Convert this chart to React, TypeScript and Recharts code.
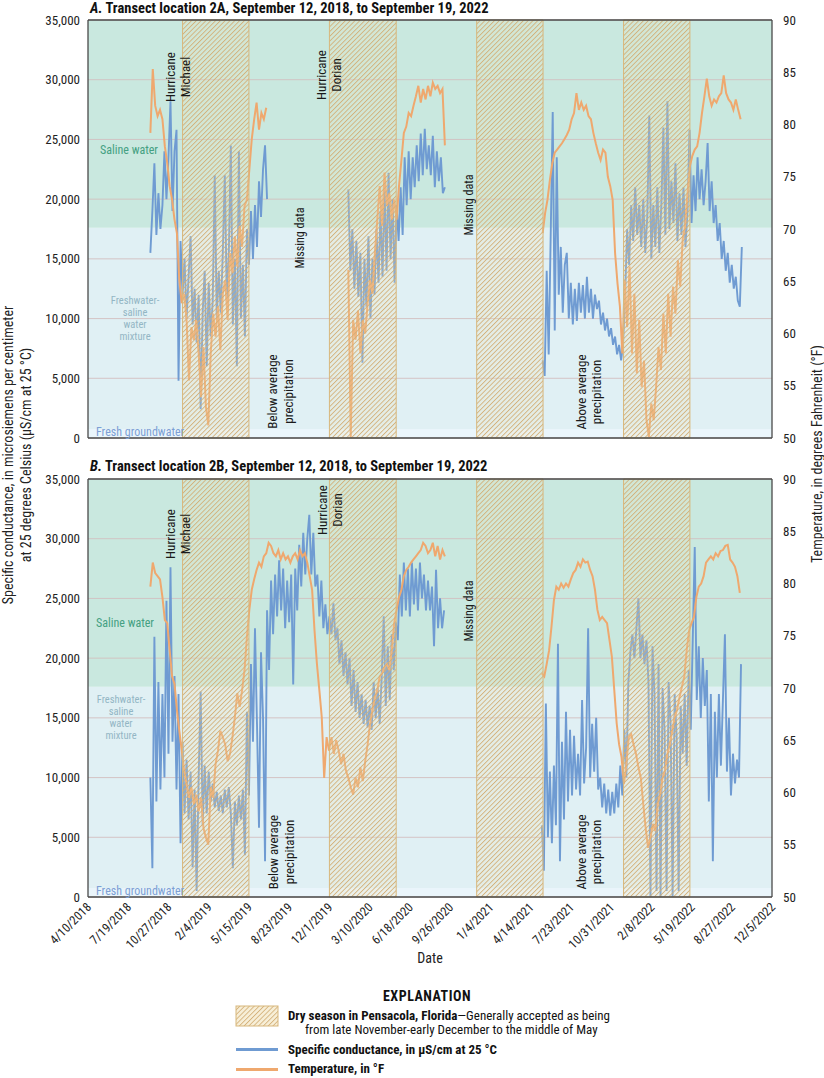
import React from 'react';
import { LineChart, Line, XAxis, YAxis, CartesianGrid, ReferenceArea } from 'recharts';

const FONT = "'Liberation Sans Narrow', 'Arial Narrow', 'Roboto Condensed', Roboto, sans-serif";
const DAY = 86400000;
const BLUE = '#6f9bd2';
const ORANGE = '#efa86e';
const AXIS = '#4a4a4a';

// x axis: 100-day tick spacing, as printed
const dateTicks = ['4/10/2018', '7/19/2018', '10/27/2018', '2/4/2019', '5/15/2019', '8/23/2019', '12/1/2019', '3/10/2020', '6/18/2020', '9/26/2020', '1/4/2021', '4/14/2021', '7/23/2021', '10/31/2021', '2/8/2022', '5/19/2022', '8/27/2022', '12/5/2022'];
const scTicks = [0, 5000, 10000, 15000, 20000, 25000, 30000, 35000];
const tempTicks = [50, 55, 60, 65, 70, 75, 80, 85, 90];
const tempInnerTicks = [55, 60, 65, 70, 75, 80, 85];

// water-type zones, specific conductance limits (µS/cm)
const waterZones = [
  { label: 'Fresh groundwater', from: 0, to: 750 },
  { label: 'Freshwater-saline water mixture', from: 750, to: 17600 },
  { label: 'Saline water', from: 17600, to: 35000 },
];
const zoneFill: Record<string, string> = {
  'Fresh groundwater': '#eaf5fb',
  'Freshwater-saline water mixture': '#e0f0f4',
  'Saline water': '#c9e8df',
};

// dry season in Pensacola (start, end)
const drySeasons = [
  ['12/1/2018', '5/15/2019'],
  ['12/1/2019', '5/15/2020'],
  ['12/1/2020', '5/15/2021'],
  ['12/1/2021', '5/15/2022'],
];

type Segment = { start: string; step: number; values: number[] };

// ---- Transect 2A ----
const sc2A: Segment[] = [
  { start: '9/12/2018', step: 5, values: [15500, 19000, 23000, 17000, 20500, 17500, 19500, 24000, 20000, 23500, 28200, 19000, 24000, 25800, 4800, 16500, 12000, 15000, 10000, 13500, 16900, 9500, 12500, 8000, 12000, 2400, 10500, 14000, 6000, 13000, 8500, 11500, 22000, 10000, 14000, 10500, 15500, 22000, 11500, 15500, 24500, 9500, 15000, 6000, 24000, 10000, 14500, 8500, 17500, 14500, 19000, 15000, 19500, 16000, 21500, 18500, 22500, 24500, 20000] },
  { start: '1/17/2020', step: 5, values: [20800, 14000, 17500, 12500, 16500, 11800, 15500, 6300, 15000, 11000, 16900, 10000, 15000, 12000, 17500, 13000, 19000, 13500, 21000, 14000, 22200, 15000, 20000, 13000, 19500, 16500, 21000, 17000, 23500, 19500, 24000, 20000, 23500, 21000, 24500, 21500, 25500, 22000, 25900, 22500, 24500, 22000, 25300, 21000, 24000, 21500, 23500, 20500, 21000] },
  { start: '5/14/2021', step: 5, values: [6500, 5200, 14000, 7000, 17000, 27300, 9000, 23500, 12000, 16000, 10500, 14500, 15500, 10000, 13000, 9500, 12500, 9800, 13000, 10500, 12800, 10000, 13500, 10500, 12500, 10000, 12000, 10800, 11500, 9500, 10500, 9000, 10000, 8500, 9200, 7800, 8500, 7000, 7800, 6500, 8000, 12000, 17500, 14500, 19500, 16500, 21000, 17000, 19500, 16000, 20000, 15500, 18500, 27000, 15000, 19500, 16000, 21000, 15500, 19500, 26000, 17000, 28200, 17500, 21500, 18000, 23000, 16500, 20500, 17000, 21000, 16000, 19000, 25800, 18000, 22000, 19000, 23500, 20000, 22500, 19500, 21500, 24700, 19000, 21500, 18000, 19500, 16500, 18000, 15000, 16500, 14000, 15500, 13000, 14500, 12500, 13500, 11500, 11000, 16000] },
];
const temp2A: Segment[] = [
  { start: '9/12/2018', step: 6, values: [79.2, 85.3, 81.8, 80.8, 81.4, 80.5, 77.9, 76.3, 74.1, 72.8, 70.9, 69.6, 65.1, 62.9, 63.8, 61.3, 55.5, 60.6, 59.4, 61.3, 58.1, 53.9, 58.7, 53.0, 51.2, 58.1, 61.9, 59.7, 62.6, 58.4, 63.8, 65.1, 61.3, 67.7, 65.8, 69.3, 66.4, 70.3, 68.3, 72.2, 72.8, 75.7, 78.6, 80.5, 82.1, 79.5, 81.1, 80.5, 81.6] },
  { start: '1/17/2020', step: 6, values: [66.1, 50.1, 61.3, 59.4, 62.2, 58.1, 61.3, 60.0, 62.9, 65.1, 63.8, 67.7, 70.9, 74.1, 70.3, 75.4, 72.2, 73.4, 70.9, 72.8, 70.9, 74.1, 76.6, 79.2, 79.8, 81.1, 80.8, 81.8, 82.7, 83.7, 82.1, 83.4, 82.4, 83.7, 82.7, 84.0, 83.4, 83.7, 83.0, 83.4, 78.0] },
  { start: '5/14/2021', step: 6, values: [69.6, 71.5, 72.8, 74.7, 76.3, 77.3, 77.6, 77.9, 78.2, 78.6, 79.0, 79.5, 80.5, 81.1, 83.0, 81.4, 82.1, 81.4, 81.8, 80.8, 80.5, 79.2, 78.2, 77.3, 76.6, 77.6, 77.3, 75.0, 74.1, 72.8, 67.7, 64.8, 62.6, 58.1, 65.1, 60.6, 66.4, 58.1, 63.8, 56.2, 61.3, 54.9, 57.4, 51.7, 50.1, 53.3, 51.7, 54.9, 58.7, 56.5, 61.9, 58.1, 63.8, 59.7, 64.5, 61.9, 67.0, 64.5, 69.0, 70.3, 73.4, 76.0, 77.0, 77.6, 77.9, 79.2, 81.1, 82.7, 84.4, 82.7, 81.8, 82.4, 82.1, 82.7, 83.0, 84.7, 83.0, 82.4, 82.1, 81.4, 82.4, 81.4, 80.5] },
];

// ---- Transect 2B ----
const sc2B: Segment[] = [
  { start: '9/12/2018', step: 5, values: [10000, 2400, 21800, 8000, 18000, 9000, 17000, 10000, 24800, 12000, 27600, 13000, 18500, 9000, 17000, 4500, 13000, 7000, 11500, 6500, 10500, 2500, 9000, 500, 10000, 17200, 6000, 11000, 7000, 10500, 8000, 9500, 7500, 8800, 7200, 8500, 7000, 9000, 7500, 9200, 7000, 2400, 8000, 6000, 8500, 6500, 9000, 3500, 15500, 8500, 19500, 13000, 22500, 14500, 5800, 20500, 15000, 3000, 24000, 19000, 26500, 22000, 27000, 23500, 28200, 24000, 27500, 22500, 26500, 23000, 27000, 17800, 27500, 24000, 29500, 26000, 30500, 27000, 30000, 32000, 27000, 30500, 26000, 27000, 23500, 26500, 22500, 24500, 22000, 23500, 22000, 24600, 21500, 22500, 19500, 21500, 18500, 20500, 17800, 20000, 16000, 19000, 15500, 18000, 15000, 17000, 14500, 16500, 14200, 16000, 14000, 18000, 15000, 17500, 14500, 18500, 23500, 16000, 21000, 16500, 22000, 19000, 23000, 21500, 27000, 23500, 28000, 24000, 27500, 23500, 28000, 24500, 27500, 24000, 28000, 25000, 27000, 24000, 26500, 24000, 26000, 21000, 27400, 22500, 25000, 22500, 24000] },
  { start: '5/12/2021', step: 5, values: [6000, 2200, 16200, 5000, 10500, 4500, 11000, 6000, 21200, 3000, 13000, 6500, 15500, 8000, 14000, 8500, 13500, 9000, 12000, 8500, 16500, 9500, 12500, 22500, 10000, 14500, 10500, 15000, 9000, 10000, 7500, 9500, 7000, 9000, 6800, 8800, 7000, 9500, 7500, 11000, 8500, 14000, 10000, 18000, 20500, 22000, 20000, 22500, 25000, 20000, 22000, 19500, 21500, 18000, 0, 21000, 17000, 500, 19500, 0, 17500, 14000, 500, 18000, 14500, 0, 17000, 13500, 500, 16000, 12000, 17000, 11000, 19000, 14000, 21500, 29300, 16500, 21000, 15000, 20000, 16000, 19000, 8000, 17000, 3000, 15500, 10000, 17000, 11000, 16500, 22000, 10500, 15000, 8500, 12000, 9500, 11500, 10000, 19500] },
];
const temp2B: Segment[] = [
  { start: '9/12/2018', step: 6, values: [79.7, 82.0, 81.0, 80.7, 80.4, 78.7, 76.5, 76.2, 73.6, 71.1, 70.4, 67.9, 65.9, 64.0, 62.1, 60.8, 59.5, 60.5, 58.9, 59.8, 58.2, 59.5, 56.6, 55.7, 55.0, 60.5, 59.5, 62.7, 64.0, 65.9, 65.3, 64.6, 63.0, 63.7, 65.3, 67.2, 69.5, 68.2, 69.8, 71.7, 74.9, 77.5, 79.4, 80.4, 81.3, 82.0, 81.6, 82.6, 82.9, 83.9, 83.6, 82.9, 82.6, 83.2, 82.3, 82.9, 82.3, 82.6, 82.0, 82.6, 82.9, 82.3, 83.2, 82.6, 82.9, 82.0, 80.7, 79.4, 75.5, 72.3, 69.8, 67.2, 61.4, 65.3, 64.0, 65.3, 63.7, 65.0, 64.0, 62.7, 63.7, 62.1, 61.4, 60.5, 59.8, 61.4, 60.5, 62.4, 61.1, 63.0, 64.6, 66.6, 67.9, 69.1, 69.8, 71.1, 71.4, 72.0, 72.3, 71.7, 73.6, 76.2, 77.5, 78.7, 79.4, 80.7, 81.3, 81.6, 82.0, 82.3, 82.6, 82.9, 83.2, 83.9, 83.6, 82.9, 83.2, 83.9, 82.6, 83.6, 82.3, 83.2, 82.6] },
  { start: '5/12/2021', step: 6, values: [71.4, 71.1, 72.3, 73.6, 75.9, 78.4, 79.7, 79.4, 80.0, 79.6, 80.0, 79.7, 80.4, 81.0, 81.3, 82.0, 81.6, 82.3, 82.0, 82.1, 81.3, 80.7, 79.4, 77.5, 76.5, 76.8, 76.5, 76.2, 74.6, 73.0, 69.8, 66.6, 64.6, 63.4, 60.8, 62.7, 65.3, 65.6, 64.6, 63.7, 62.4, 61.4, 58.9, 56.6, 54.7, 55.7, 57.0, 56.3, 58.9, 59.8, 61.4, 62.1, 63.7, 64.6, 65.9, 67.2, 67.9, 69.1, 70.1, 71.1, 73.6, 75.5, 76.2, 76.8, 78.7, 79.7, 80.0, 80.7, 82.0, 82.3, 82.6, 82.3, 82.9, 82.6, 83.1, 83.2, 83.6, 83.7, 82.3, 82.0, 81.6, 80.7, 79.1] },
];

const parseDate = (s: string) => {
  const [m, d, y] = s.split('/').map(Number);
  return Date.UTC(y, m - 1, d);
};
const tickTimes = dateTicks.map(parseDate);
const T0 = tickTimes[0];
const T1 = tickTimes[tickTimes.length - 1];
const tickLabel = new Map(tickTimes.map((t, i) => [t, dateTicks[i]]));

const toPoints = (seg: Segment) => {
  const t0 = parseDate(seg.start);
  return seg.values.map((v, i) => ({ t: t0 + i * seg.step * DAY, v }));
};

const DateTick = (props: any) => {
  const { x, y, payload } = props;
  const ax = x + 4;
  const ay = y + 11;
  return (
    <text x={ax} y={ay} transform={`rotate(-45 ${ax} ${ay})`} textAnchor="end" fontSize={12.5} fontFamily={FONT} fill="#222">
      {tickLabel.get(payload.value)}
    </text>
  );
};

const tickStyle = { fontSize: 13, fill: '#222', fontFamily: FONT };

function Panel({ id, sc, temp, dates }: { id: string; sc: Segment[]; temp: Segment[]; dates: boolean }) {
  const hatch = `dry-${id}`;
  return (
    <LineChart width={824} height={dates ? 498 : 445} margin={{ top: 20, right: 0, bottom: dates ? 0 : 7, left: 0 }}>
      <defs>
        <pattern id={hatch} patternUnits="userSpaceOnUse" width={3.4} height={3.4} patternTransform="rotate(45)">
          <rect width={3.4} height={3.4} fill="#f3e2b5" fillOpacity={0.22} />
          <line x1={0.5} y1={0} x2={0.5} y2={3.4} stroke="#d3ae74" strokeWidth={0.85} />
        </pattern>
      </defs>
      {waterZones.map((z) => (
        <ReferenceArea key={z.label} xAxisId="b" yAxisId="sc" y1={z.from} y2={z.to} fill={zoneFill[z.label]} fillOpacity={1} stroke="none" zIndex={-200} />
      ))}
      <CartesianGrid xAxisId="b" yAxisId="sc" vertical={false} stroke="#d2bcbd" strokeOpacity={0.85} />
      {sc.map((s, i) => (
        <Line key={`sc${i}`} xAxisId="b" yAxisId="sc" data={toPoints(s)} dataKey="v" stroke={BLUE} strokeWidth={1.9} dot={false} isAnimationActive={false} />
      ))}
      {temp.map((s, i) => (
        <Line key={`t${i}`} xAxisId="b" yAxisId="t" data={toPoints(s)} dataKey="v" stroke={ORANGE} strokeWidth={2} dot={false} isAnimationActive={false} />
      ))}
      {drySeasons.map(([a, b]) => (
        <ReferenceArea key={a} xAxisId="b" yAxisId="sc" x1={parseDate(a)} x2={parseDate(b)} fill={`url(#${hatch})`} fillOpacity={1} stroke="#d8b77c" strokeWidth={1} zIndex={450} />
      ))}
      <XAxis xAxisId="b" type="number" dataKey="t" domain={[T0, T1]} ticks={tickTimes} allowDataOverflow mirror orientation="bottom" height={10} tick={false} tickSize={5} stroke={AXIS} strokeWidth={1.3} interval={0} />
      <XAxis xAxisId="top" type="number" dataKey="t" domain={[T0, T1]} ticks={tickTimes} allowDataOverflow mirror orientation="top" height={10} tick={false} tickSize={5} stroke={AXIS} strokeWidth={1.3} interval={0} />
      {dates && (
        <XAxis xAxisId="lab" type="number" dataKey="t" domain={[T0, T1]} ticks={tickTimes} allowDataOverflow height={60} axisLine={false} tickLine={false} tickSize={0} tickMargin={0} tick={<DateTick />} interval={0} />
      )}
      <YAxis yAxisId="sc" domain={[0, 35000]} ticks={scTicks} allowDataOverflow width={88} tickLine={false} tickSize={0} tickMargin={8} tick={tickStyle} tickFormatter={(v: number) => v.toLocaleString('en-US')} stroke={AXIS} strokeWidth={1.3} interval={0} />
      <YAxis yAxisId="tl" domain={[50, 90]} ticks={tempInnerTicks} allowDataOverflow mirror width={10} tick={false} tickSize={5} axisLine={false} stroke={AXIS} interval={0} />
      <YAxis yAxisId="t" orientation="right" domain={[50, 90]} ticks={tempTicks} allowDataOverflow width={52} tickLine={false} tickSize={0} tickMargin={11} tick={tickStyle} stroke={AXIS} strokeWidth={1.3} interval={0} />
    </LineChart>
  );
}

const VText = ({ x, y, lines, size = 13, gap = 15 }: { x: number; y: number; lines: string[]; size?: number; gap?: number }) => (
  <g>
    {lines.map((l, i) => (
      <text key={i} x={x + i * gap} y={y} transform={`rotate(-90 ${x + i * gap} ${y})`} textAnchor="middle" fontSize={size} fill="#1a1a1a">
        {l}
      </text>
    ))}
  </g>
);

const ZoneLabels = ({ salX, salY, mixX, mixY, freshY }: { salX: number; salY: number; mixX: number; mixY: number; freshY: number }) => (
  <g fontSize={12}>
    <text x={salX} y={salY} textAnchor="middle" fill="#44a082">Saline water</text>
    {['Freshwater-', 'saline', 'water', 'mixture'].map((l, i) => (
      <text key={l + i} x={mixX} y={mixY + i * 12} textAnchor="middle" fill="#93b6c4" fontSize={10.5}>{l}</text>
    ))}
    <text x={96} y={freshY} fill="#7c9fd4">Fresh groundwater</text>
  </g>
);

export default function App() {
  return (
    <div style={{ position: 'absolute', left: 0, top: 0, width: 824, height: 1078, background: '#fff', fontFamily: FONT }}>
      <div style={{ position: 'absolute', left: 0, top: 0 }}>
        <Panel id="A" sc={sc2A} temp={temp2A} dates={false} />
      </div>
      <div style={{ position: 'absolute', left: 0, top: 459 }}>
        <Panel id="B" sc={sc2B} temp={temp2B} dates />
      </div>
      <svg style={{ position: 'absolute', left: 0, top: 0, pointerEvents: 'none' }} width={824} height={1078} fontFamily={FONT}>
        <defs>
          <pattern id="dry-legend" patternUnits="userSpaceOnUse" width={3.4} height={3.4} patternTransform="rotate(45)">
            <rect width={3.4} height={3.4} fill="#f7efd8" />
            <line x1={0.5} y1={0} x2={0.5} y2={3.4} stroke="#d3ae74" strokeWidth={0.85} />
          </pattern>
        </defs>
        <text x={90} y={12.7} fontSize={14.5} fontWeight="bold" fill="#111">
          <tspan fontStyle="italic">A.</tspan> Transect location 2A, September 12, 2018, to September 19, 2022
        </text>
        <text x={90} y={470.5} fontSize={14.5} fontWeight="bold" fill="#111">
          <tspan fontStyle="italic">B.</tspan> Transect location 2B, September 12, 2018, to September 19, 2022
        </text>

        <ZoneLabels salX={129} salY={154} mixX={135} mixY={304} freshY={436} />
        <ZoneLabels salX={125} salY={627} mixX={121} mixY={703} freshY={895} />

        <VText x={174.5} y={77} lines={['Hurricane', 'Michael']} />
        <VText x={325.5} y={75} lines={['Hurricane', 'Dorian']} />
        <VText x={304} y={238} lines={['Missing data']} size={12} />
        <VText x={473} y={205} lines={['Missing data']} size={12} />
        <VText x={276.5} y={391.5} lines={['Below average', 'precipitation']} gap={16} />
        <VText x={586} y={392} lines={['Above average', 'precipitation']} gap={15} />

        <VText x={175} y={534} lines={['Hurricane', 'Michael']} />
        <VText x={326.5} y={510} lines={['Hurricane', 'Dorian']} />
        <VText x={473} y={611} lines={['Missing data']} size={12} />
        <VText x={278} y={852} lines={['Below average', 'precipitation']} gap={16} />
        <VText x={585.5} y={852} lines={['Above average', 'precipitation']} gap={15} />

        <text transform="translate(13,455) rotate(-90)" textAnchor="middle" fontSize={14} fill="#222">Specific conductance, in microsiemens per centimeter</text>
        <text transform="translate(31,455) rotate(-90)" textAnchor="middle" fontSize={14} fill="#222">at 25 degrees Celsius (µS/cm at 25 °C)</text>
        <text transform="translate(822,454) rotate(-90)" textAnchor="middle" fontSize={14} fill="#222">Temperature, in degrees Fahrenheit (°F)</text>
        <text x={430} y={963} textAnchor="middle" fontSize={14} fill="#222">Date</text>

        <text x={427} y={1001} textAnchor="middle" fontSize={14} fontWeight="bold" letterSpacing={0.5} fill="#111">EXPLANATION</text>
        <rect x={236} y={1006} width={42} height={20} fill="url(#dry-legend)" stroke="#d8b77c" strokeWidth={1} />
        <text x={288} y={1020} fontSize={13} fill="#111">
          <tspan fontWeight="bold">Dry season in Pensacola, Florida</tspan>—Generally accepted as being
        </text>
        <text x={305} y={1034} fontSize={13} fill="#111">from late November-early December to the middle of May</text>
        <line x1={236} x2={278} y1={1049.5} y2={1049.5} stroke={BLUE} strokeWidth={2.8} />
        <text x={288} y={1054} fontSize={13} fontWeight="bold" fill="#111">Specific conductance, in µS/cm at 25 °C</text>
        <line x1={236} x2={278} y1={1069.5} y2={1069.5} stroke={ORANGE} strokeWidth={2.8} />
        <text x={288} y={1073} fontSize={13} fontWeight="bold" fill="#111">Temperature, in °F</text>
      </svg>
    </div>
  );
}
